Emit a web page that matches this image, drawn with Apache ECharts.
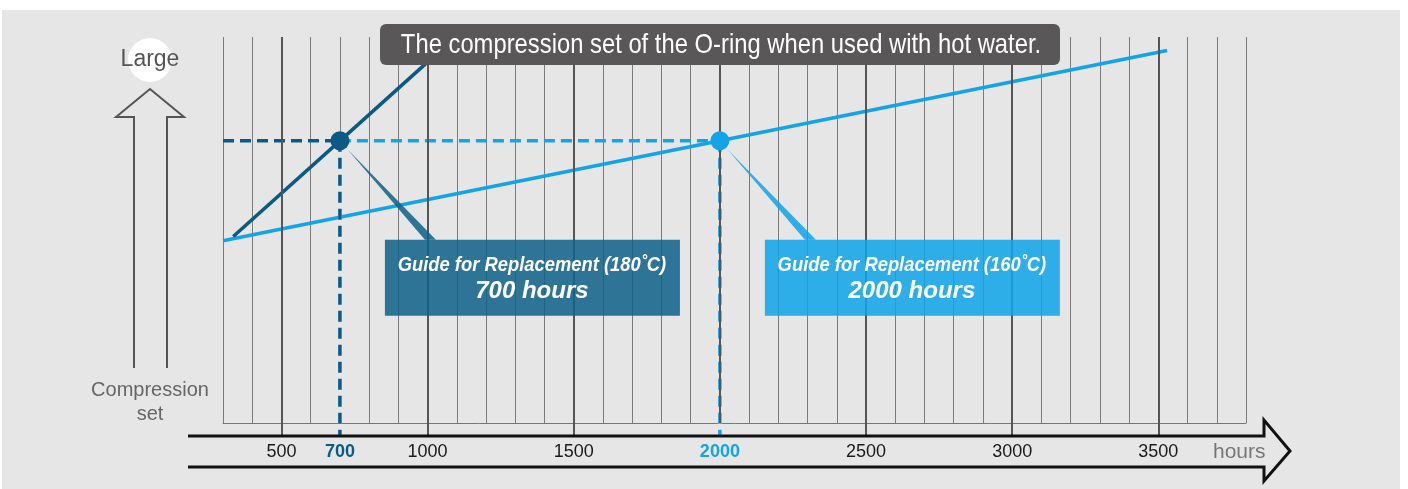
<!DOCTYPE html>
<html>
<head>
<meta charset="utf-8">
<script src="https://cdn.jsdelivr.net/npm/echarts@6/dist/echarts.min.js"></script>
<style>
html, body { margin: 0; padding: 0; background: #fff; }
#chart { width: 1408px; height: 489px; }
</style>
</head>
<body>
<div id="chart"></div>
<script>
// 180°C line (hours, compression set in relative units)
var hours180 = [335, 700, 1010];
var set180 = [48.3, 73.1, 94.2];
// 160°C line
var hours160 = [300, 2000, 3530];
var set160 = [47.2, 73.1, 96.5];
// replacement guides
var guideHours = [700, 2000];
var guideSet = 73.1;
var guideTitles = ['Guide for Replacement (180˚C)', 'Guide for Replacement (160˚C)'];
var guideTexts = ['700 hours', '2000 hours'];
// axis
var xMin = 300, xMax = 3800;
var axisBottom = -3.4; // where the dashed guides meet the arrow
var tickLabels = [500, 700, 1000, 1500, 2000, 2500, 3000, 3500];
var majorLines = [500, 1000, 1500, 2000, 2500, 3000, 3500];
var majorTicks = [500, 1000, 1500, 2500, 3000, 3500];

var dark = '#0b5a86';
var light = '#13a3e8';
var panel = '#e6e6e6';
var boxFill = ['rgba(15,97,136,0.86)', 'rgba(14,164,232,0.86)'];

function pairs (xs, ys) {
  return xs.map(function (x, i) { return [x, ys[i]] })
}

function guideLine (data, color, z, dashed) {
  return {
    type: 'line',
    clip: false,
    silent: true,
    data: data,
    symbol: 'none',
    lineStyle: { color: color, width: 3.5, type: dashed ? [11, 6] : 'solid' },
    z: z
  }
}

var myChart = echarts.init(document.getElementById('chart'))

var vDark = [[guideHours[0], guideSet], [guideHours[0], axisBottom]]
var vLight = [[guideHours[1], guideSet], [guideHours[1], axisBottom]]

var option = {
  animation: false,
  grid: { left: 223, right: 162, top: 37, bottom: 66 },
  xAxis: [
    {
      type: 'value',
      min: xMin,
      max: xMax,
      interval: 100,
      axisLine: { show: true, lineStyle: { color: '#777', width: 1 } },
      axisTick: { show: true, customValues: majorTicks, length: 13, lineStyle: { color: '#555', width: 2 } },
      splitLine: { show: false },
      axisLabel: {
        customValues: tickLabels,
        margin: 20,
        fontSize: 18,
        fontFamily: 'Liberation Sans',
        color: '#1a1a1a',
        formatter: function (v) {
          if (v === 700) return '{a|' + v + '}'
          if (v === 2000) return '{b|' + v + '}'
          return '' + v
        },
        rich: {
          a: { fontSize: 18, fontWeight: 'bold', color: dark, fontFamily: 'Liberation Sans' },
          b: { fontSize: 18, fontWeight: 'bold', color: light, fontFamily: 'Liberation Sans' }
        }
      }
    },
    {
      // minor grid every 100 hours
      type: 'value',
      position: 'bottom',
      min: xMin,
      max: xMax,
      interval: 100,
      axisLine: { show: false },
      axisTick: { show: false },
      axisLabel: { show: false },
      splitLine: { show: true, lineStyle: { color: '#7b7b7b', width: 1 } }
    }
  ],
  yAxis: {
    type: 'value',
    min: 0,
    max: 100,
    show: false,
    splitLine: { show: false }
  },
  graphic: [
    // background panel
    { type: 'rect', z: -100, shape: { x: 2, y: 10, width: 1398, height: 479 }, style: { fill: panel } },
    // left up arrow
    { type: 'polyline', z: 5, shape: { points: [[134, 368], [134, 117], [116, 117], [150, 89], [184, 117], [167, 117], [167, 368]] }, style: { stroke: '#555', lineWidth: 2, fill: null } },
    { type: 'circle', z: 5, shape: { cx: 150, cy: 60, r: 22 }, style: { fill: '#fff' } },
    { type: 'text', z: 6, x: 150, y: 60, style: { text: 'Large', fill: '#555', font: '23px "Liberation Sans"', align: 'center', verticalAlign: 'middle' } },
    { type: 'text', z: 6, x: 150, y: 390, style: { text: 'Compression', fill: '#666', font: '20px "Liberation Sans"', align: 'center', verticalAlign: 'middle' } },
    { type: 'text', z: 6, x: 150, y: 414, style: { text: 'set', fill: '#666', font: '20px "Liberation Sans"', align: 'center', verticalAlign: 'middle' } },
    // bottom hours arrow
    { type: 'polyline', z: 5, shape: { points: [[188, 436], [1264, 436], [1264, 420], [1290, 451], [1264, 481], [1264, 467], [188, 467]] }, style: { stroke: '#111', lineWidth: 3, fill: null, lineJoin: 'miter' } },
    { type: 'text', z: 6, x: 1213, y: 452, style: { text: 'hours', fill: '#777', font: '21px "Liberation Sans"', align: 'left', verticalAlign: 'middle' } },
    // title box
    { type: 'rect', z: 100, shape: { x: 380, y: 24, width: 680, height: 41, r: 6 }, style: { fill: '#595757' } },
    { type: 'text', z: 101, x: 721, y: 45, scaleX: 0.85, style: { text: 'The compression set of the O-ring when used with hot water.', fill: '#fff', font: '28px "Liberation Sans"', align: 'center', verticalAlign: 'middle' } }
  ],
  series: [
    {
      name: 'major',
      type: 'line',
      data: [],
      markLine: {
        silent: true,
        symbol: 'none',
        label: { show: false },
        lineStyle: { color: '#555', width: 2, type: 'solid' },
        data: majorLines.map(function (v) { return { xAxis: v } })
      },
      z: 1
    },
    {
      name: '160',
      type: 'line',
      data: pairs(hours160, set160),
      symbol: 'none',
      lineStyle: { color: light, width: 3.5 },
      z: 3
    },
    {
      name: '180',
      type: 'line',
      data: pairs(hours180, set180),
      symbol: 'none',
      lineStyle: { color: dark, width: 3.5 },
      z: 3
    },
    // panel-coloured strips under the vertical guides hide the grid lines
    guideLine(vDark, panel, 3, false),
    guideLine(vLight, panel, 3, false),
    guideLine([[xMin, guideSet], [guideHours[0], guideSet]], dark, 4, true),
    guideLine([[guideHours[0], guideSet], [guideHours[1], guideSet]], light, 4, true),
    guideLine(vDark, dark, 4, true),
    guideLine(vLight, light, 4, true),
    {
      type: 'scatter',
      symbolSize: 19,
      data: [
        { value: [guideHours[0], guideSet], itemStyle: { color: dark, opacity: 1 } },
        { value: [guideHours[1], guideSet], itemStyle: { color: light, opacity: 1 } }
      ],
      z: 6
    },
    {
      type: 'custom',
      clip: false,
      silent: true,
      data: guideHours.map(function (h) { return [h, guideSet] }),
      z: 8,
      renderItem: function (params, api) {
        var i = params.dataIndex
        var p = api.coord([api.value(0), api.value(1)])
        var bx = p[0] + 45
        var by = p[1] + 99
        return {
          type: 'group',
          children: [
            { type: 'polygon', shape: { points: [[p[0] + 8, p[1] + 9], [bx + 40, by], [bx + 51, by]] }, style: { fill: boxFill[i] } },
            { type: 'rect', shape: { x: bx, y: by, width: 295, height: 76 }, style: { fill: boxFill[i] } },
            { type: 'text', x: bx + 147, y: by + 25, scaleX: 0.875, style: { text: guideTitles[i], fill: '#fff', font: 'italic bold 21px "Liberation Sans"', align: 'center', verticalAlign: 'middle' } },
            { type: 'text', x: bx + 147, y: by + 52, style: { text: guideTexts[i], fill: '#fff', font: 'italic bold 24px "Liberation Sans"', align: 'center', verticalAlign: 'middle' } }
          ]
        }
      }
    }
  ]
}

myChart.setOption(option)
</script>
</body>
</html>
